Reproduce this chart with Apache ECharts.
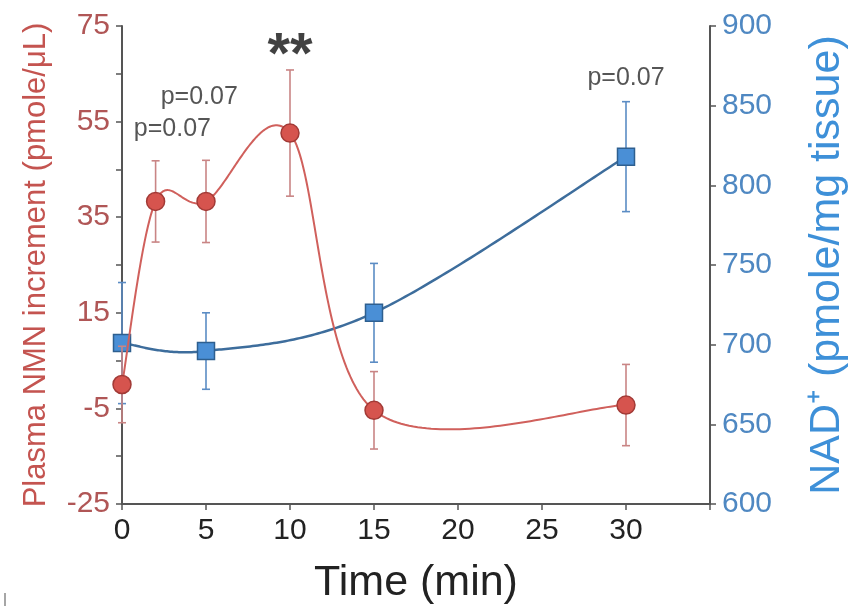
<!DOCTYPE html>
<html>
<head>
<meta charset="utf-8">
<script src="https://cdn.jsdelivr.net/npm/echarts@6/dist/echarts.min.js"></script>
<style>html,body{margin:0;padding:0;background:#fff}#c{width:868px;height:612px}</style>
</head>
<body>
<div id="c"></div>
<script>
// ---- data ----
var times = [0, 2, 5, 10, 15, 30];
var nmnMean = [0, 38.3, 38.3, 52.6, -5.4, -4.3];
var nmnErr = [8, 8.5, 8.6, 13.2, 8.1, 8.5];
var nadTimes = [0, 5, 15, 30];
var nadMean = [701, 696, 720, 818];
var nadErr = [38, 24, 31, 34.5];
var xTicks = [0, 5, 10, 15, 20, 25, 30];
var leftTicks = [-25, -5, 15, 35, 55, 75];
var rightTicks = [600, 650, 700, 750, 800, 850, 900];
var annTexts = ['p=0.07', 'p=0.07', '**', 'p=0.07'];
var annX = [3.0, 4.6, 10, 30];
var annY = [53.4, 60.2, 68.6, 64.2];

var FONT = '"Liberation Sans", Arial, Helvetica, sans-serif';
var chart = echarts.init(document.getElementById('c'), null, {renderer: 'canvas'});

// Catmull-Rom curve through the pixel positions of the data points
function catmullPoints(P) {
  var n = P.length, m = [], out = [], i, j;
  for (i = 0; i < n; i++) {
    var a = P[Math.max(i - 1, 0)], b = P[Math.min(i + 1, n - 1)];
    m.push([(b[0] - a[0]) / 2, (b[1] - a[1]) / 2]);
  }
  for (i = 0; i < n - 1; i++) {
    var p0 = P[i], p3 = P[i + 1];
    var p1 = [p0[0] + m[i][0] / 3, p0[1] + m[i][1] / 3];
    var p2 = [p3[0] - m[i + 1][0] / 3, p3[1] - m[i + 1][1] / 3];
    for (j = (i === 0 ? 0 : 1); j <= 60; j++) {
      var t = j / 60, u = 1 - t;
      out.push([
        u * u * u * p0[0] + 3 * u * u * t * p1[0] + 3 * u * t * t * p2[0] + t * t * t * p3[0],
        u * u * u * p0[1] + 3 * u * u * t * p1[1] + 3 * u * t * t * p2[1] + t * t * t * p3[1]
      ]);
    }
  }
  return out;
}

function curveSeries(xs, ys, yIdx, color, width, z) {
  return {
    type: 'custom', xAxisIndex: 0, yAxisIndex: yIdx, silent: true, z: z,
    data: xs.map(function (t, i) { return [t, ys[i]]; }),
    renderItem: function (params, api) {
      if (params.dataIndex !== 0) return null;
      var P = xs.map(function (t, i) { return api.coord([t, ys[i]]); });
      return {type: 'polyline', shape: {points: catmullPoints(P)}, style: {stroke: color, lineWidth: width, fill: null}};
    }
  };
}

function errData(xs, m, e) {
  return xs.map(function (t, i) { return [t, m[i] - e[i], m[i] + e[i]]; });
}
function errSeries(data, yIdx, color, cap, z) {
  return {
    type: 'custom', xAxisIndex: 0, yAxisIndex: yIdx, silent: true, z: z,
    data: data,
    encode: {x: 0, y: [1, 2]},
    renderItem: function (params, api) {
      var lo = api.coord([api.value(0), api.value(1)]);
      var hi = api.coord([api.value(0), api.value(2)]);
      var st = {stroke: color, lineWidth: 1.6};
      return {
        type: 'group',
        children: [
          {type: 'line', shape: {x1: lo[0], y1: lo[1], x2: hi[0], y2: hi[1]}, style: st},
          {type: 'line', shape: {x1: lo[0] - cap, y1: lo[1], x2: lo[0] + cap, y2: lo[1]}, style: st},
          {type: 'line', shape: {x1: hi[0] - cap, y1: hi[1], x2: hi[0] + cap, y2: hi[1]}, style: st}
        ]
      };
    }
  };
}

var axisLine = {show: true, onZero: false, lineStyle: {color: '#555', width: 2}};

var annData = annTexts.map(function (s, i) { return {value: [annX[i], annY[i]], name: s}; });
annData[2].label = {fontSize: 58, fontWeight: 'bold', color: '#111'};

var option = {
  backgroundColor: '#fff',
  animation: false,
  grid: {left: 122, right: 158, top: 26, bottom: 108, containLabel: false, outerBoundsMode: 'none'},
  xAxis: {
    type: 'value', min: 0, max: 35, interval: 5,
    axisLine: axisLine,
    axisTick: {show: true, inside: false, length: 6, lineStyle: {color: '#555', width: 1.5}},
    splitLine: {show: false},
    axisLabel: {
      color: '#222', fontFamily: FONT, fontSize: 30, margin: 12,
      formatter: function (v) { return xTicks.indexOf(v) >= 0 ? String(v) : ''; }
    },
    name: 'Time (min)', nameLocation: 'middle', nameGap: 58,
    nameTextStyle: {color: '#222', fontFamily: FONT, fontSize: 43}
  },
  yAxis: [
    {
      type: 'value', min: -25, max: 75, interval: 20, position: 'left',
      axisLine: axisLine,
      axisTick: {show: true, length: 6, lineStyle: {color: '#555', width: 1.5}},
      minorTick: {show: true, splitNumber: 2, length: 6, lineStyle: {color: '#555', width: 1.5}},
      splitLine: {show: false},
      axisLabel: {
        color: '#b05656', fontFamily: FONT, fontSize: 30, margin: 12,
        formatter: function (v) { return leftTicks.indexOf(v) >= 0 ? String(v) : ''; }
      },
      name: 'Plasma NMN increment (pmole/\u03bcL)', nameLocation: 'middle', nameGap: 70, nameRotate: 90,
      nameTextStyle: {color: '#c45450', fontFamily: FONT, fontSize: 31}
    },
    {
      type: 'value', min: 600, max: 900, interval: 50, position: 'right',
      axisLine: axisLine,
      axisTick: {show: true, length: 6, lineStyle: {color: '#555', width: 1.5}},
      splitLine: {show: false},
      axisLabel: {
        color: '#4f88c2', fontFamily: FONT, fontSize: 30, margin: 12,
        formatter: function (v) { return rightTicks.indexOf(v) >= 0 ? String(v) : ''; }
      },
      name: 'NAD\u207A (pmole/mg tissue)', nameLocation: 'middle', nameGap: 96, nameRotate: 90,
      nameTextStyle: {color: '#3e90d8', fontFamily: FONT, fontSize: 43}
    }
  ],
  series: [
    errSeries(errData(nadTimes, nadMean, nadErr), 1, '#5b8cc4', 4, 1),
    curveSeries(nadTimes, nadMean, 1, '#3d6d9c', 2.5, 2),
    {
      type: 'scatter', yAxisIndex: 1, z: 3,
      data: nadTimes.map(function (t, i) { return [t, nadMean[i]]; }),
      symbol: 'rect', symbolSize: 17,
      itemStyle: {color: '#4a8fd6', borderColor: '#2e5f8f', borderWidth: 1.5, opacity: 1}
    },
    errSeries(errData(times, nmnMean, nmnErr), 0, '#c98585', 4, 4),
    curveSeries(times, nmnMean, 0, '#d0605c', 2, 5),
    {
      type: 'scatter', yAxisIndex: 0, z: 6,
      data: times.map(function (t, i) { return [t, nmnMean[i]]; }),
      symbol: 'circle', symbolSize: 18,
      itemStyle: {color: '#d6544e', borderColor: '#a23a36', borderWidth: 1.5, opacity: 1}
    },
    {
      type: 'scatter', yAxisIndex: 0, z: 7, silent: true,
      symbolSize: 0,
      data: annData,
      label: {
        show: true, position: 'inside', formatter: '{b}',
        color: '#2a2a2a', fontFamily: FONT, fontSize: 25
      }
    }
  ],
  graphic: [
    {type: 'line', shape: {x1: 5, y1: 593, x2: 5, y2: 606}, style: {stroke: '#888', lineWidth: 1.5}}
  ]
};
chart.setOption(option);
</script>
</body>
</html>
